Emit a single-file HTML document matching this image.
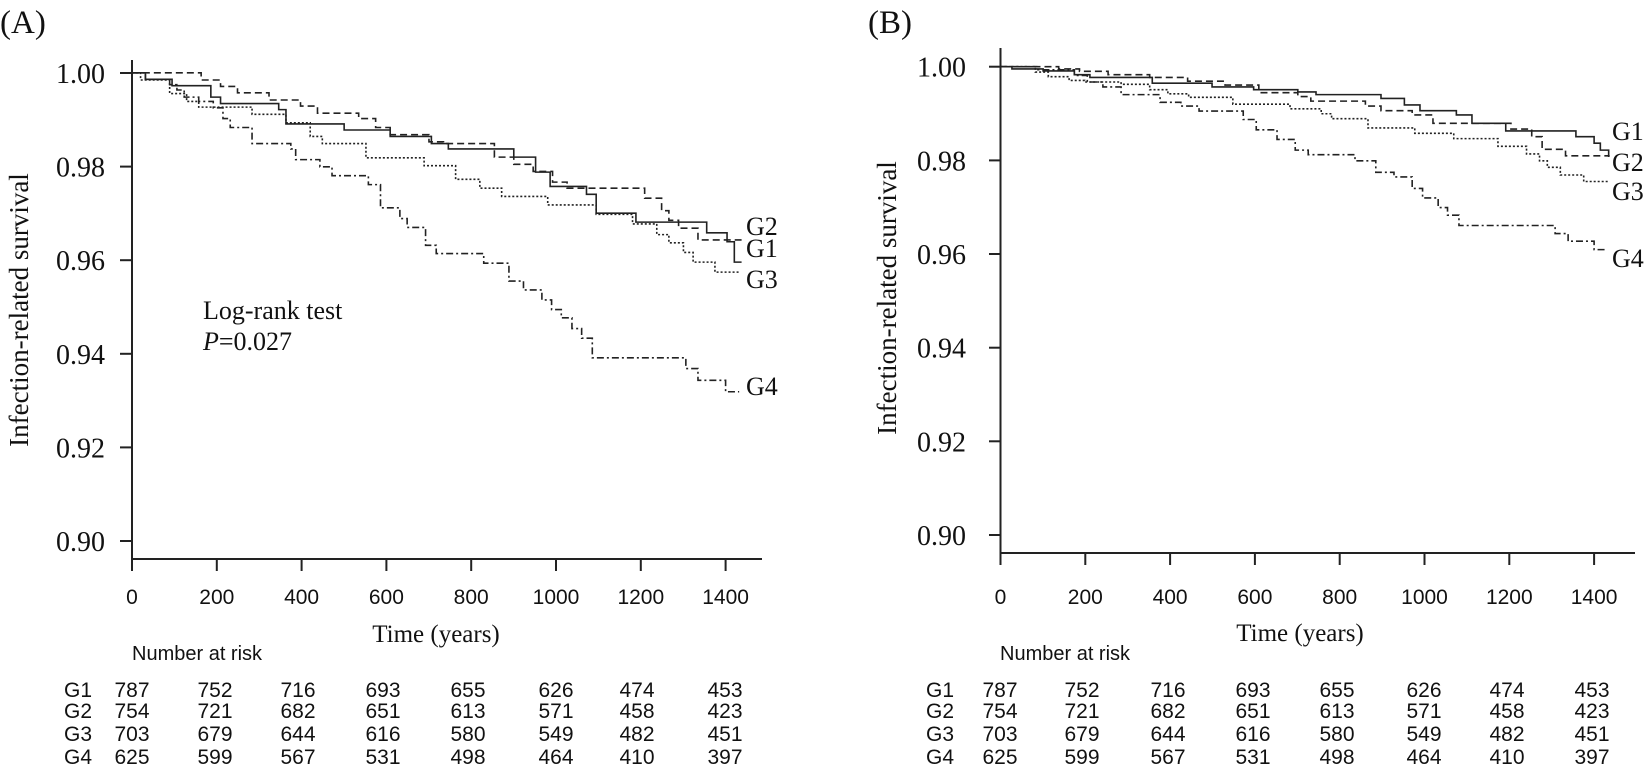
<!DOCTYPE html>
<html><head><meta charset="utf-8"><style>
body{margin:0;background:#fff}
svg{display:block}
.s{font-family:"Liberation Serif",serif;fill:#111}
.a{font-family:"Liberation Sans",sans-serif;fill:#111}
</style></head><body>
<svg width="1645" height="771" viewBox="0 0 1645 771" xmlns="http://www.w3.org/2000/svg">
<text class="s" x="0" y="33" font-size="33">(A)</text>
<text class="s" x="868" y="33" font-size="33">(B)</text>

<!-- Panel A axes -->
<g stroke="#222" stroke-width="2" fill="none">
<line x1="132" y1="60" x2="132" y2="560"/>
<line x1="132" y1="559" x2="762" y2="559"/>
<line x1="120" y1="73" x2="132" y2="73"/><line x1="120" y1="166.6" x2="132" y2="166.6"/><line x1="120" y1="260.2" x2="132" y2="260.2"/><line x1="120" y1="353.8" x2="132" y2="353.8"/><line x1="120" y1="447.4" x2="132" y2="447.4"/><line x1="120" y1="541" x2="132" y2="541"/>
<line x1="132" y1="559" x2="132" y2="571"/><line x1="216.8" y1="559" x2="216.8" y2="571"/><line x1="301.6" y1="559" x2="301.6" y2="571"/><line x1="386.4" y1="559" x2="386.4" y2="571"/><line x1="471.2" y1="559" x2="471.2" y2="571"/><line x1="556" y1="559" x2="556" y2="571"/><line x1="640.8" y1="559" x2="640.8" y2="571"/><line x1="725.6" y1="559" x2="725.6" y2="571"/>
</g>
<g class="s" font-size="28" text-anchor="end">
<text x="105" y="83">1.00</text><text x="105" y="176.6">0.98</text><text x="105" y="270.2">0.96</text><text x="105" y="363.8">0.94</text><text x="105" y="457.4">0.92</text><text x="105" y="551">0.90</text>
</g>
<text class="s" font-size="27" text-anchor="middle" transform="translate(28,310) rotate(-90)">Infection-related survival</text>
<g class="a" font-size="21" text-anchor="middle">
<text x="132" y="604">0</text><text x="216.8" y="604">200</text><text x="301.6" y="604">400</text><text x="386.4" y="604">600</text><text x="471.2" y="604">800</text><text x="556" y="604">1000</text><text x="640.8" y="604">1200</text><text x="725.6" y="604">1400</text>
</g>
<text class="s" font-size="25" x="436" y="642" text-anchor="middle">Time (years)</text>
<text class="s" font-size="26" x="203" y="319">Log-rank test</text>
<text class="s" font-size="26" x="203" y="350"><tspan font-style="italic">P</tspan>=0.027</text>
<g class="s" font-size="26">
<text x="746" y="235">G2</text><text x="746" y="257">G1</text><text x="746" y="288">G3</text><text x="746" y="395">G4</text>
</g>
<g fill="none" stroke="#222" stroke-width="1.6" transform="translate(0,40) scale(0.4847,0.3571)">
<path vector-effect="non-scaling-stroke" d="M272 92 H300 V110 H355 V128 H435 V160 H455 V178 H575 V195 H590 V235 H710 V252 H805 V270 H890 V290 H925 V305 H1060 V328 H1105 V370 H1135 V410 H1210 V432 H1230 V485 H1312 V510 H1458 V540 H1500 V565 H1515 V622 H1530"/>
<path vector-effect="non-scaling-stroke" stroke-dasharray="7,4" d="M272 92 H415 V112 H455 V130 H490 V148 H555 V168 H620 V185 H655 V205 H740 V220 H775 V245 H805 V265 H885 V285 H915 V290 H1020 V328 H1060 V348 H1100 V368 H1140 V398 H1170 V415 H1330 V443 H1365 V478 H1380 V505 H1400 V527 H1440 V560 H1530"/>
<path vector-effect="non-scaling-stroke" stroke-dasharray="2,2" d="M272 92 H290 V112 H350 V150 H385 V172 H410 V188 H520 V208 H590 V232 H640 V270 H665 V290 H755 V330 H875 V352 H940 V390 H990 V415 H1035 V438 H1130 V462 H1230 V488 H1305 V515 H1355 V545 H1380 V568 H1410 V595 H1430 V622 H1475 V650 H1525"/>
<path vector-effect="non-scaling-stroke" stroke-dasharray="7,3,2,3" d="M272 92 H300 V110 H350 V125 H365 V140 H380 V160 H410 V172 H440 V190 H460 V220 H475 V245 H520 V290 H600 V305 H610 V335 H660 V355 H685 V380 H760 V405 H785 V470 H825 V500 H840 V525 H878 V575 H900 V598 H998 V625 H1050 V675 H1080 V700 H1118 V728 H1138 V755 H1158 V778 H1180 V808 H1200 V835 H1222 V890 H1415 V920 H1440 V953 H1497 V985 H1525"/>
</g>
<text class="a" font-size="20" x="132" y="660">Number at risk</text>
<g class="a" font-size="21" text-anchor="middle">
<text x="78" y="697">G1</text><text x="132" y="697">787</text><text x="215" y="697">752</text><text x="298" y="697">716</text><text x="383" y="697">693</text><text x="468" y="697">655</text><text x="556" y="697">626</text><text x="637" y="697">474</text><text x="725" y="697">453</text>
<text x="78" y="718">G2</text><text x="132" y="718">754</text><text x="215" y="718">721</text><text x="298" y="718">682</text><text x="383" y="718">651</text><text x="468" y="718">613</text><text x="556" y="718">571</text><text x="637" y="718">458</text><text x="725" y="718">423</text>
<text x="78" y="741">G3</text><text x="132" y="741">703</text><text x="215" y="741">679</text><text x="298" y="741">644</text><text x="383" y="741">616</text><text x="468" y="741">580</text><text x="556" y="741">549</text><text x="637" y="741">482</text><text x="725" y="741">451</text>
<text x="78" y="764">G4</text><text x="132" y="764">625</text><text x="215" y="764">599</text><text x="298" y="764">567</text><text x="383" y="764">531</text><text x="468" y="764">498</text><text x="556" y="764">464</text><text x="637" y="764">410</text><text x="725" y="764">397</text>
</g>

<!-- Panel B -->
<g stroke="#222" stroke-width="2" fill="none">
<line x1="1000.5" y1="48" x2="1000.5" y2="554"/>
<line x1="1000.5" y1="553" x2="1635" y2="553"/>
<line x1="989" y1="66.7" x2="1000.5" y2="66.7"/><line x1="989" y1="160.4" x2="1000.5" y2="160.4"/><line x1="989" y1="254" x2="1000.5" y2="254"/><line x1="989" y1="347.7" x2="1000.5" y2="347.7"/><line x1="989" y1="441.3" x2="1000.5" y2="441.3"/><line x1="989" y1="535" x2="1000.5" y2="535"/>
<line x1="1000.5" y1="553" x2="1000.5" y2="565"/><line x1="1085.3" y1="553" x2="1085.3" y2="565"/><line x1="1170.1" y1="553" x2="1170.1" y2="565"/><line x1="1254.9" y1="553" x2="1254.9" y2="565"/><line x1="1339.7" y1="553" x2="1339.7" y2="565"/><line x1="1424.5" y1="553" x2="1424.5" y2="565"/><line x1="1509.3" y1="553" x2="1509.3" y2="565"/><line x1="1594.1" y1="553" x2="1594.1" y2="565"/>
</g>
<g class="s" font-size="28" text-anchor="end">
<text x="966" y="76.7">1.00</text><text x="966" y="170.4">0.98</text><text x="966" y="264">0.96</text><text x="966" y="357.7">0.94</text><text x="966" y="451.3">0.92</text><text x="966" y="545">0.90</text>
</g>
<text class="s" font-size="27" text-anchor="middle" transform="translate(896,298) rotate(-90)">Infection-related survival</text>
<g class="a" font-size="21" text-anchor="middle">
<text x="1000.5" y="604">0</text><text x="1085.3" y="604">200</text><text x="1170.1" y="604">400</text><text x="1254.9" y="604">600</text><text x="1339.7" y="604">800</text><text x="1424.5" y="604">1000</text><text x="1509.3" y="604">1200</text><text x="1594.1" y="604">1400</text>
</g>
<text class="s" font-size="25" x="1300" y="641" text-anchor="middle">Time (years)</text>
<g class="s" font-size="26">
<text x="1612" y="140">G1</text><text x="1612" y="171">G2</text><text x="1612" y="200">G3</text><text x="1612" y="267">G4</text>
</g>
<g fill="none" stroke="#222" stroke-width="1.6" transform="translate(830,20) scale(0.5198,0.3827)">
<path vector-effect="non-scaling-stroke" d="M328 122 H350 V128 H410 V133 H470 V143 H500 V150 H620 V165 H735 V175 H815 V182 H900 V188 H935 V195 H1060 V205 H1105 V222 H1135 V237 H1205 V248 H1235 V270 H1300 V290 H1435 V305 H1470 V322 H1482 V340 H1498 V358"/>
<path vector-effect="non-scaling-stroke" stroke-dasharray="7,4" d="M328 122 H440 V128 H480 V134 H535 V143 H615 V150 H688 V160 H760 V170 H825 V190 H900 V200 H925 V212 H1030 V225 H1060 V237 H1120 V248 H1160 V270 H1310 V285 H1350 V305 H1370 V338 H1415 V355 H1500"/>
<path vector-effect="non-scaling-stroke" stroke-dasharray="2,2" d="M328 122 H395 V136 H420 V148 H460 V158 H490 V162 H560 V168 H615 V182 H650 V193 H690 V202 H775 V220 H885 V232 H945 V245 H965 V258 H1035 V282 H1125 V296 H1200 V310 H1285 V330 H1340 V350 H1365 V368 H1380 V385 H1405 V405 H1450 V422 H1500"/>
<path vector-effect="non-scaling-stroke" stroke-dasharray="7,3,2,3" d="M328 122 H400 V130 H470 V145 H495 V162 H525 V175 H560 V195 H635 V215 H675 V225 H710 V238 H795 V260 H820 V287 H860 V312 H895 V340 H920 V352 H1010 V368 H1050 V398 H1085 V410 H1120 V440 H1140 V465 H1170 V490 H1188 V510 H1210 V537 H1395 V558 H1420 V578 H1470 V600 H1495"/>
</g>
<text class="a" font-size="20" x="1000" y="660">Number at risk</text>
<g class="a" font-size="21" text-anchor="middle">
<text x="940" y="697">G1</text><text x="1000" y="697">787</text><text x="1082" y="697">752</text><text x="1168" y="697">716</text><text x="1253" y="697">693</text><text x="1337" y="697">655</text><text x="1424" y="697">626</text><text x="1507" y="697">474</text><text x="1592" y="697">453</text>
<text x="940" y="718">G2</text><text x="1000" y="718">754</text><text x="1082" y="718">721</text><text x="1168" y="718">682</text><text x="1253" y="718">651</text><text x="1337" y="718">613</text><text x="1424" y="718">571</text><text x="1507" y="718">458</text><text x="1592" y="718">423</text>
<text x="940" y="741">G3</text><text x="1000" y="741">703</text><text x="1082" y="741">679</text><text x="1168" y="741">644</text><text x="1253" y="741">616</text><text x="1337" y="741">580</text><text x="1424" y="741">549</text><text x="1507" y="741">482</text><text x="1592" y="741">451</text>
<text x="940" y="764">G4</text><text x="1000" y="764">625</text><text x="1082" y="764">599</text><text x="1168" y="764">567</text><text x="1253" y="764">531</text><text x="1337" y="764">498</text><text x="1424" y="764">464</text><text x="1507" y="764">410</text><text x="1592" y="764">397</text>
</g>
</svg>
</body></html>
